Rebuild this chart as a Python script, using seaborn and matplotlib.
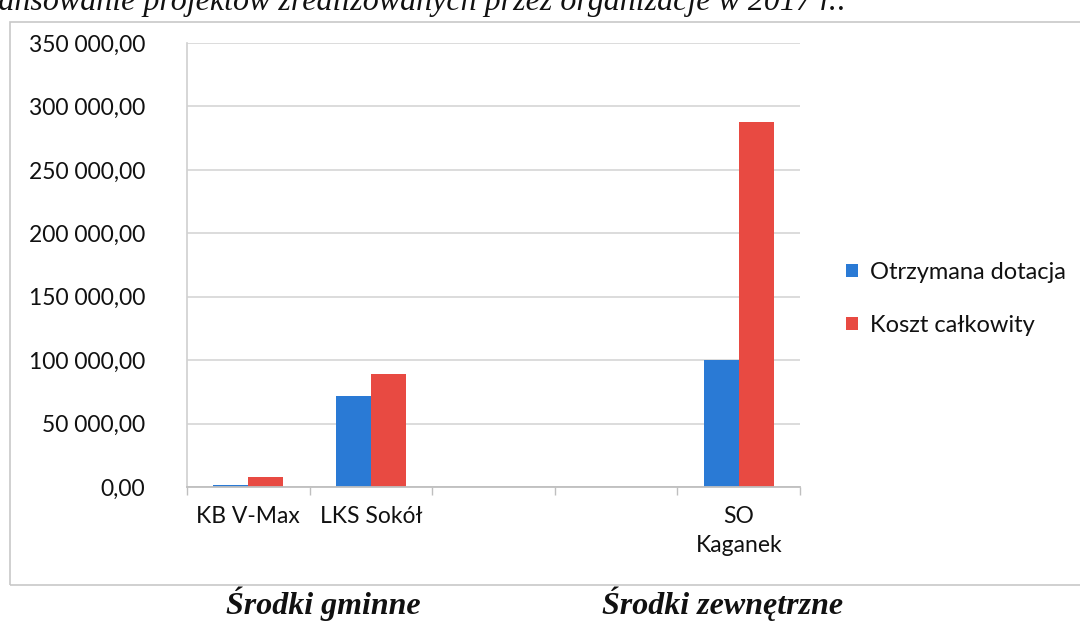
import matplotlib
matplotlib.use("Agg")
import matplotlib.pyplot as plt
import matplotlib.ticker as mticker
from matplotlib.patches import Rectangle
import pandas as pd
import seaborn as sns

# ---- data ----
slots = ["KB V-Max", "LKS Sokół", "pusty1", "pusty2", "SO\nKaganek"]
slot_labels = ["KB V-Max", "LKS Sokół", "", "", "SO\nKaganek"]
categories = ["KB V-Max", "LKS Sokół", "SO\nKaganek"]
dotacja = [1800, 72000, 100000]
koszt = [7900, 88700, 288000]
series_names = ["Otrzymana dotacja", "Koszt całkowity"]
title_text = "Finansowanie projektów zrealizowanych przez organizacje w 2017 r.:"
group_labels = ["Środki gminne", "Środki zewnętrzne"]

df = pd.DataFrame({
    "organizacja": categories * 2,
    "seria": [series_names[0]] * len(categories) + [series_names[1]] * len(categories),
    "kwota": dotacja + koszt,
})

sns.set_theme(style="white")
plt.rcParams["font.family"] = ["Lato", "DejaVu Sans"]

W, H = 1080, 621
fig = plt.figure(figsize=(W / 100, H / 100), dpi=100)
fig.patch.set_facecolor("white")

# chart frame
fig.add_artist(Rectangle((10 / W, 1 - 585 / H), 1.2, (585 - 22) / H,
                         transform=fig.transFigure, fill=False,
                         edgecolor="#C8C8C8", linewidth=1.2))

ax = fig.add_axes([187 / W, 1 - 487 / H, 613 / W, 444 / H])
palette = {series_names[0]: "#2A7AD5", series_names[1]: "#E84A42"}
sns.barplot(data=df, x="organizacja", y="kwota", hue="seria", order=slots,
            hue_order=series_names, palette=palette, width=0.57, gap=0,
            saturation=1, linewidth=0, ax=ax, legend=True)

ax.set_ylim(0, 350000)
ax.set_xlim(-0.5, 4.5)
ax.yaxis.set_major_locator(mticker.MultipleLocator(50000))
ax.yaxis.set_major_formatter(mticker.FuncFormatter(
    lambda v, p: f"{v:,.2f}".replace(",", " ").replace(".", ",")))
ax.grid(axis="y", color="#D9D9D9", linewidth=1.3)
ax.set_axisbelow(True)

ax.set_xticks(range(len(slots)))
ax.set_xticklabels(slot_labels, linespacing=1.45)
ax.xaxis.set_minor_locator(mticker.FixedLocator([i - 0.5 for i in range(len(slots) + 1)]))
ax.tick_params(axis="x", which="major", length=0, pad=14, labelsize=16.5, labelcolor="#111111")
ax.tick_params(axis="x", which="minor", length=6, width=1, color="#BFBFBF", direction="out", bottom=True)
ax.tick_params(axis="y", length=0, pad=30, labelsize=16.5, labelcolor="#111111")
ax.set_xlabel("")
ax.set_ylabel("")

for s in ["top", "right"]:
    ax.spines[s].set_visible(False)
ax.spines["left"].set_color("#D0D0D0")
ax.spines["left"].set_linewidth(1.2)
ax.spines["bottom"].set_color("#BFBFBF")
ax.spines["bottom"].set_linewidth(1.3)

leg = ax.legend(loc="center left", bbox_to_anchor=(650 / 613, (487 - 299) / 444),
                frameon=False, fontsize=17, handlelength=0.5, handleheight=0.5,
                handletextpad=0.5, labelspacing=1.35, borderaxespad=0)
for t in leg.get_texts():
    t.set_color("#111111")

# cropped title at top
fig.text(848 / W, 1 - 10 / H, title_text, ha="right", va="baseline",
         family="Liberation Serif", style="italic", fontsize=23, color="#111111")

# group labels below
fig.text(323 / W, 1 - 604 / H, group_labels[0], ha="center", va="center",
         family="Liberation Serif", style="italic", weight="bold", fontsize=23, color="#111111")
fig.text(723 / W, 1 - 604 / H, group_labels[1], ha="center", va="center",
         family="Liberation Serif", style="italic", weight="bold", fontsize=23, color="#111111")

fig.savefig("out.png", dpi=100, facecolor="white")
